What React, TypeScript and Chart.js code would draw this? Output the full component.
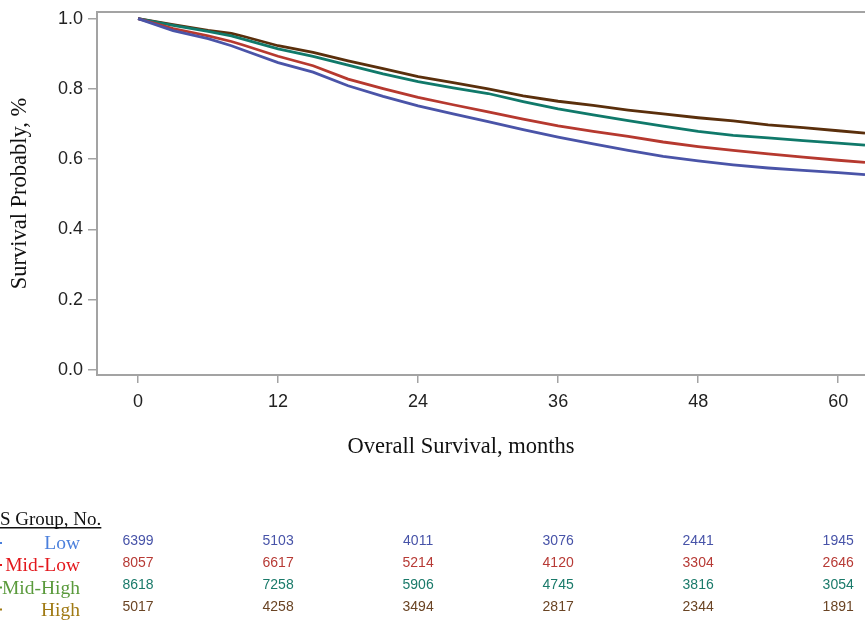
import React, { useEffect, useRef } from 'react';
import { Chart, registerables } from 'chart.js';

Chart.register(...registerables);

// Kaplan-Meier curves (months vs survival probability)
const months = [0, 3, 6, 8, 9, 12, 15, 18, 21, 24, 27, 30, 33, 36, 39, 42, 45, 48, 51, 54, 57, 60, 62.3];
const survLow = [1.0, 0.966, 0.943, 0.923, 0.911, 0.875, 0.848, 0.809, 0.779, 0.752, 0.729, 0.707, 0.684, 0.663, 0.644, 0.625, 0.608, 0.595, 0.584, 0.575, 0.568, 0.562, 0.556];
const survMidLow = [1.0, 0.972, 0.951, 0.935, 0.925, 0.893, 0.866, 0.828, 0.801, 0.776, 0.755, 0.735, 0.714, 0.695, 0.679, 0.665, 0.649, 0.636, 0.625, 0.615, 0.606, 0.597, 0.591];
const survMidHigh = [1.0, 0.981, 0.964, 0.951, 0.942, 0.914, 0.893, 0.868, 0.843, 0.821, 0.803, 0.787, 0.764, 0.743, 0.726, 0.71, 0.694, 0.679, 0.668, 0.661, 0.653, 0.646, 0.64];
const survHigh = [1.0, 0.983, 0.967, 0.958, 0.95, 0.923, 0.904, 0.88, 0.858, 0.835, 0.818, 0.8, 0.78, 0.765, 0.753, 0.74, 0.729, 0.718, 0.709, 0.698, 0.69, 0.681, 0.674];

// Ticks
const xTicks = [0, 12, 24, 36, 48, 60];
const yTicks = [0, 0.2, 0.4, 0.6, 0.8, 1.0];

// Number at risk table
const groupLabels = ['Low', 'Mid-Low', 'Mid-High', 'High'];
const riskMonths = [0, 12, 24, 36, 48, 60];
const riskLow = [6399, 5103, 4011, 3076, 2441, 1945];
const riskMidLow = [8057, 6617, 5214, 4120, 3304, 2646];
const riskMidHigh = [8618, 7258, 5906, 4745, 3816, 3054];
const riskHigh = [5017, 4258, 3494, 2817, 2344, 1891];

const lineColors = ['#4a54a8', '#b6392f', '#10796a', '#5a2f0c'];
const numberColors = ['#4753a8', '#b73a35', '#1a7a6a', '#6a4424'];
const labelColors = ['#4a7fdc', '#e3171c', '#5a9a3c', '#a07a14'];
const axisGray = '#a3a3a3';
const SERIF = '"Liberation Serif", "Times New Roman", serif';
const SANS = '"Liberation Sans", Arial, sans-serif';

const extrasPlugin = {
  id: 'extras',
  afterDraw(chart: any) {
    const ctx = chart.ctx;
    const area = chart.chartArea;
    const xs = chart.scales.x;
    ctx.save();
    // top frame line
    ctx.strokeStyle = axisGray;
    ctx.lineWidth = 2;
    ctx.beginPath();
    ctx.moveTo(area.left, area.top);
    ctx.lineTo(area.right, area.top);
    ctx.stroke();

    // x axis title
    ctx.fillStyle = '#111';
    ctx.font = `22.5px ${SERIF}`;
    ctx.textAlign = 'center';
    ctx.textBaseline = 'middle';
    ctx.fillText('Overall Survival, months', area.left + 364, 447);

    // risk table header
    ctx.font = `19px ${SERIF}`;
    ctx.textAlign = 'left';
    ctx.textBaseline = 'alphabetic';
    const header = 'S Group, No.';
    ctx.fillText(header, 0, 525);
    const hw = ctx.measureText(header).width;
    ctx.fillRect(0, 527, hw, 1.5);

    const rows = [riskLow, riskMidLow, riskMidHigh, riskHigh];
    const rowY = [541, 563, 585.5, 607.5];
    rows.forEach((row, i) => {
      // small marker dot
      ctx.fillStyle = labelColors[i];
      ctx.fillRect(0, rowY[i] + 1, 2, 2);
      // group label
      ctx.font = `19.5px ${SERIF}`;
      ctx.textAlign = 'right';
      ctx.textBaseline = 'middle';
      ctx.fillText(groupLabels[i], 80, rowY[i] + 3);
      // numbers
      ctx.fillStyle = numberColors[i];
      ctx.font = `14px ${SANS}`;
      ctx.textAlign = 'center';
      row.forEach((n, j) => {
        ctx.fillText(String(n), xs.getPixelForValue(riskMonths[j]), rowY[i]);
      });
    });
    ctx.restore();
  },
};

export default function App() {
  const ref = useRef<HTMLCanvasElement | null>(null);
  useEffect(() => {
    if (!ref.current) return;
    const mk = (arr: number[]) => months.map((m, i) => ({ x: m, y: arr[i] }));
    const chart = new Chart(ref.current, {
      type: 'line',
      data: {
        datasets: [
          { label: 'Low', data: mk(survLow), borderColor: lineColors[0] },
          { label: 'Mid-Low', data: mk(survMidLow), borderColor: lineColors[1] },
          { label: 'Mid-High', data: mk(survMidHigh), borderColor: lineColors[2] },
          { label: 'High', data: mk(survHigh), borderColor: lineColors[3] },
        ].map((d) => ({ ...d, borderWidth: 2.8, pointRadius: 0, tension: 0, fill: false })),
      },
      options: {
        responsive: false,
        animation: false,
        devicePixelRatio: 1,
        layout: { padding: { top: 12, right: 0, left: 0, bottom: 0 } },
        plugins: { legend: { display: false }, tooltip: { enabled: false } },
        scales: {
          x: {
            type: 'linear',
            min: -3.52,
            max: 62.3,
            afterFit: (s: any) => { s.height = 248; s.paddingLeft = 0; s.paddingRight = 0; },
            afterBuildTicks: (s: any) => { s.ticks = xTicks.map((v) => ({ value: v })); },
            grid: { drawOnChartArea: false, drawTicks: true, tickLength: 8, color: axisGray, lineWidth: 1.5 },
            border: { display: true, color: axisGray, width: 2 },
            ticks: { color: '#222', font: { family: SANS, size: 18 }, padding: 8, maxRotation: 0, autoSkip: false },
          },
          y: {
            type: 'linear',
            min: -0.0142,
            max: 1.019,
            afterFit: (s: any) => { s.width = 97; s.paddingTop = 0; s.paddingBottom = 0; },
            afterBuildTicks: (s: any) => { s.ticks = yTicks.map((v) => ({ value: v })); },
            grid: { drawOnChartArea: false, drawTicks: true, tickLength: 9, color: axisGray, lineWidth: 1.5 },
            border: { display: true, color: axisGray, width: 2 },
            ticks: { color: '#222', font: { family: SANS, size: 18 }, padding: 5, callback: (v: any) => Number(v).toFixed(1) },
            title: { display: true, text: 'Survival Probably, %', color: '#111', font: { family: SERIF, size: 22.5 }, padding: { top: 7, bottom: 0 } },
          },
        },
      },
      plugins: [extrasPlugin],
    } as any);
    return () => chart.destroy();
  }, []);
  return (
    <div style={{ position: 'fixed', left: 0, top: 0, width: 865, height: 623, background: '#fff' }}>
      <canvas ref={ref} width={865} height={623} style={{ display: 'block', width: 865, height: 623 }} />
    </div>
  );
}
